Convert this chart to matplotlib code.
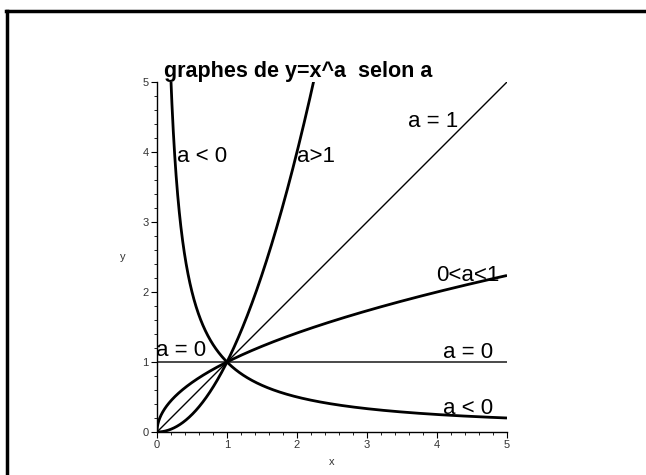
import numpy as np
import matplotlib.pyplot as plt
from matplotlib.lines import Line2D
from matplotlib.ticker import MultipleLocator

plt.rcParams['font.family'] = ['Liberation Sans', 'DejaVu Sans']

# exponents and where each curve stops
x_max = 5.0
powers = [2.0, 1.0, 0.5, 0.0, -1.0]
widths = [2.0, 1.0, 2.0, 1.0, 2.0]

# labels of the curves: text, x, y (baseline)
labels = ["a < 0", "a>1", "a = 1", "0<a<1", "a = 0", "a = 0", "a < 0"]
label_x = [0.28, 2.0, 3.59, 3.99, -0.01, 4.08, 4.08]
label_y = [3.86, 3.86, 4.36, 2.16, 1.08, 1.06, 0.26]

ticks = [0, 1, 2, 3, 4, 5]

fig = plt.figure(figsize=(6.46, 4.75), dpi=100)
W, H = 646, 475
ax = fig.add_axes([157 / W, 43 / H, 350 / W, 350 / H])

x = np.linspace(0.0005, x_max, 2000)
for p, lw in zip(powers, widths):
    ax.plot(x, x ** p, color='black', lw=lw, solid_capstyle='butt')

for t, lx, ly in zip(labels, label_x, label_y):
    ax.text(lx, ly, t, fontsize=16, ha='left', va='baseline')

ax.set_xlim(0, 5)
ax.set_ylim(0, 5)
ax.spines['top'].set_visible(False)
ax.spines['right'].set_visible(False)
for s in ['left', 'bottom']:
    ax.spines[s].set_linewidth(1.0)
ax.set_xticks(ticks)
ax.set_yticks(ticks)
ax.xaxis.set_minor_locator(MultipleLocator(0.2))
ax.yaxis.set_minor_locator(MultipleLocator(0.2))
ax.tick_params(which='major', length=4, width=0.8, labelsize=8, labelcolor='#333333', pad=2)
ax.tick_params(which='minor', length=2, width=0.6)
ax.set_xlabel('x', fontsize=8, color='#333333', labelpad=5)
ax.set_ylabel('y', fontsize=8, color='#333333', rotation=0, labelpad=14, va='center')

fig.text(164 / W, (H - 77) / H, 'graphes de y=x^a  selon a', fontsize=15.5,
         fontweight='bold', ha='left', va='baseline')

# frame around the drawing
fig.add_artist(Line2D([7 / W, 7 / W], [0, (H - 11) / H], color='black', lw=2.5,
                      transform=fig.transFigure))
fig.add_artist(Line2D([6 / W, 1], [(H - 11) / H, (H - 11) / H], color='black', lw=2.5,
                      transform=fig.transFigure))

fig.savefig('out.png', dpi=100)
